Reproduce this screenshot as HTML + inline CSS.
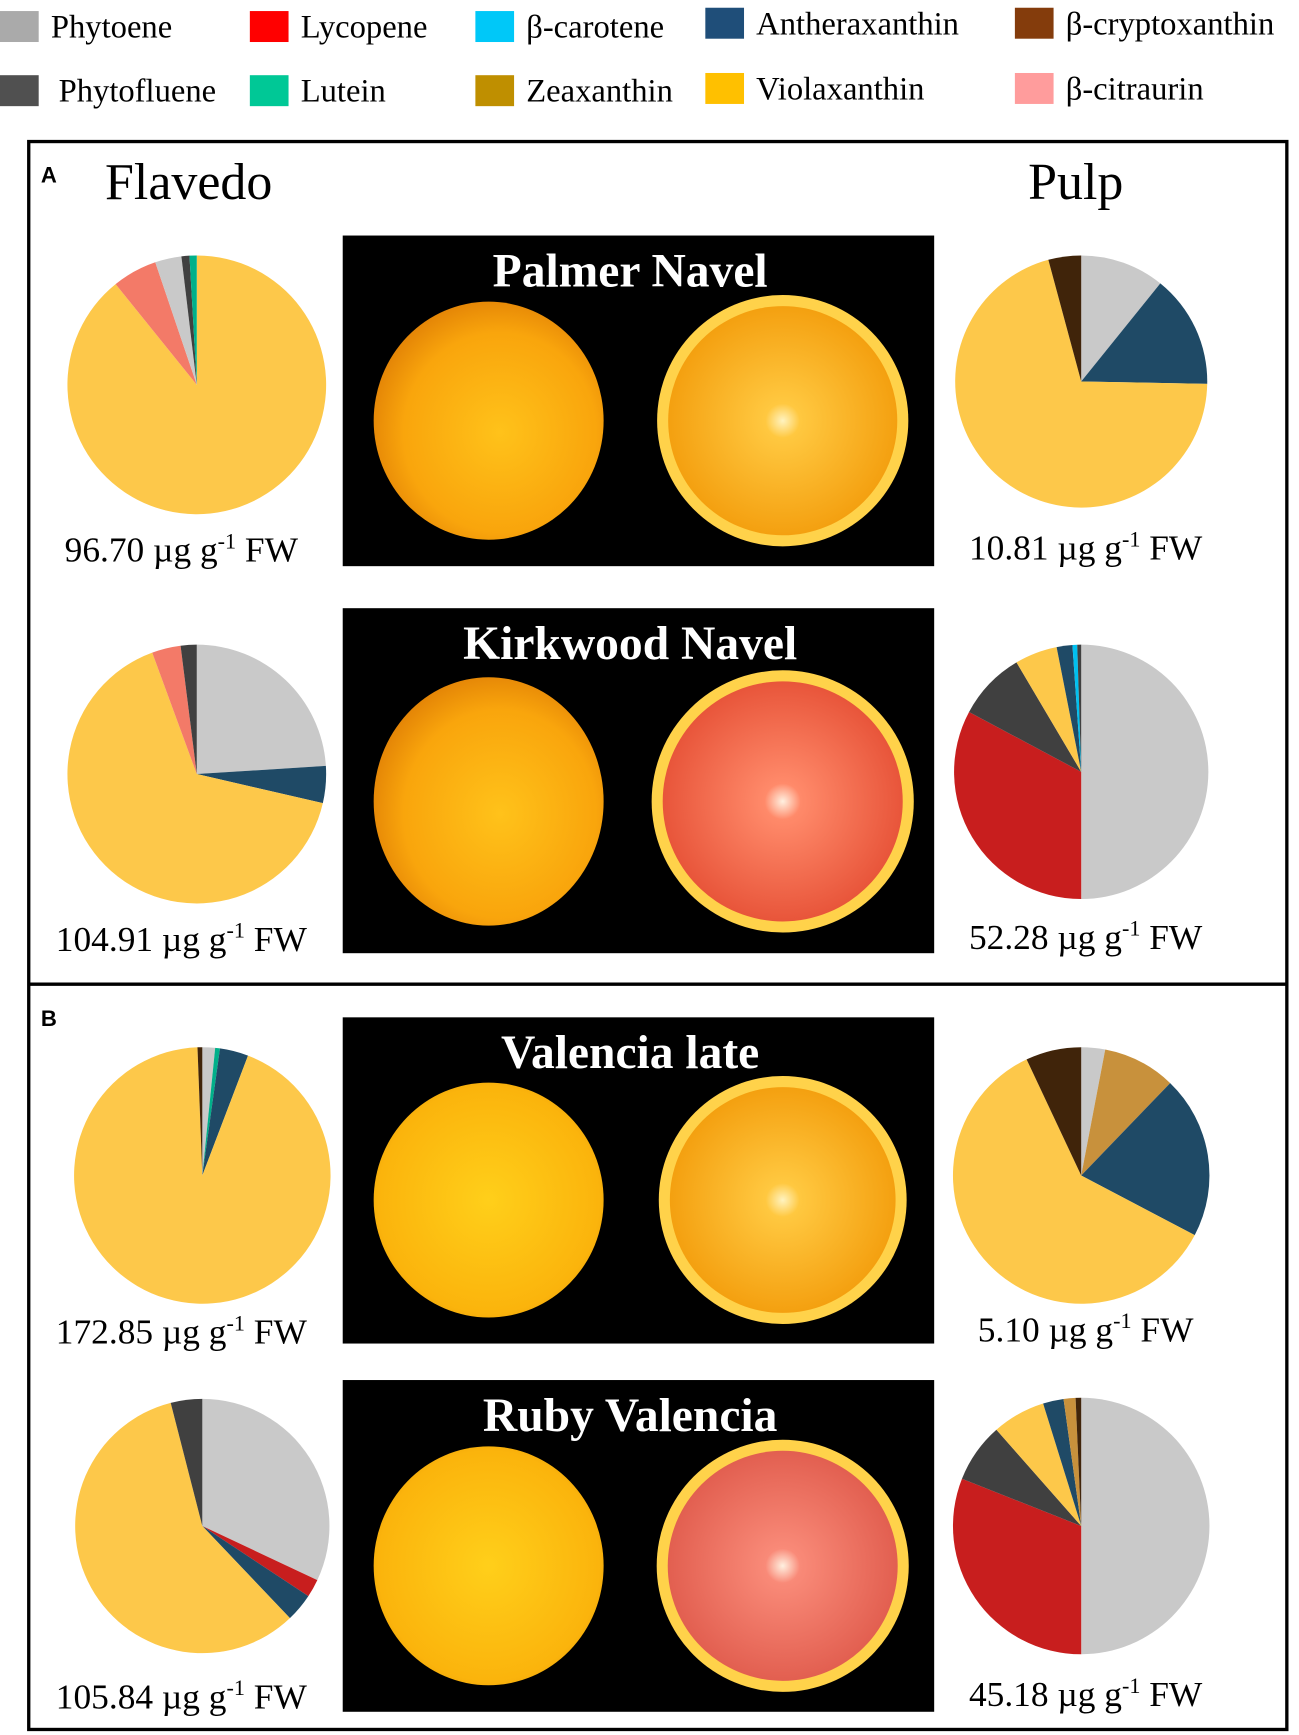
<!DOCTYPE html>
<html><head><meta charset="utf-8">
<style>
html,body{margin:0;padding:0;background:#fff;}
svg{display:block;}
text{font-family:"Liberation Serif",serif;}
</style></head>
<body>
<svg id="fig" width="1299" height="1735" viewBox="0 0 1175 1569" preserveAspectRatio="none">
<defs>
<radialGradient id="gPeel" cx="0.55" cy="0.55" r="0.6"><stop offset="0" stop-color="#ffc21a"/><stop offset="0.7" stop-color="#f9a50c"/><stop offset="1" stop-color="#e07f05"/></radialGradient>
<radialGradient id="gPeel2" cx="0.5" cy="0.5" r="0.6"><stop offset="0" stop-color="#ffcf1a"/><stop offset="0.8" stop-color="#fbb40c"/><stop offset="1" stop-color="#e89a05"/></radialGradient>
<radialGradient id="gFlesh" cx="0.5" cy="0.5" r="0.5"><stop offset="0" stop-color="#fff3c0"/><stop offset="0.15" stop-color="#ffc840"/><stop offset="1" stop-color="#f4a010"/></radialGradient>
<radialGradient id="gRed" cx="0.5" cy="0.5" r="0.5"><stop offset="0" stop-color="#fff0e0"/><stop offset="0.15" stop-color="#ff8a6a"/><stop offset="1" stop-color="#e8553a"/></radialGradient>
<radialGradient id="gRuby" cx="0.5" cy="0.5" r="0.5"><stop offset="0" stop-color="#fff0e0"/><stop offset="0.15" stop-color="#f98a78"/><stop offset="1" stop-color="#e25f50"/></radialGradient>
</defs>
<g id="legend"></g>
<rect x="26" y="128" width="1138" height="1436" fill="none" stroke="#000" stroke-width="3"/>
<line x1="26" y1="890" x2="1164" y2="890" stroke="#000" stroke-width="3"/>
<text x="37" y="165" font-weight="bold" font-size="20" style="font-family:'Liberation Sans',sans-serif">A</text>
<text x="37" y="928" font-weight="bold" font-size="20" style="font-family:'Liberation Sans',sans-serif">B</text>
<text x="95" y="180" font-size="47">Flavedo</text>
<text x="930" y="180" font-size="47">Pulp</text>
<g id="photos"></g>
<g id="pies"></g>
</svg>
<script>
const legendNames = ["Phytoene","Lycopene","β-carotene","Antheraxanthin","β-cryptoxanthin","Phytofluene","Lutein","Zeaxanthin","Violaxanthin","β-citraurin"];
const legendColors = ["#aaaaaa","#ff0000","#00c8f8","#1f4e79","#843c0c","#505050","#00c896","#bf8f00","#ffc000","#ff9c9c"];
const pieColors = {Phytoene:"#c9c9c9",Phytofluene:"#404040",Lycopene:"#c81e1e","β-carotene":"#00c0f0",Lutein:"#00b08a",Zeaxanthin:"#c8913c",Antheraxanthin:"#1f4a66",Violaxanthin:"#fdc84a","β-cryptoxanthin":"#40240a","β-citraurin":"#f37a68"};
const cultivars = ["Palmer Navel","Kirkwood Navel","Valencia late","Ruby Valencia"];
const flavedoTotals = ["96.70","104.91","172.85","105.84"];
const pulpTotals = ["10.81","52.28","5.10","45.18"];
const flavedoSlices = [
 [["Violaxanthin",89.2],["β-citraurin",5.6],["Phytoene",3.3],["Phytofluene",1.0],["Lutein",0.9]],
 [["Phytoene",24],["Antheraxanthin",4.6],["Violaxanthin",65.8],["β-citraurin",3.6],["Phytofluene",2.0]],
 [["Phytoene",1.6],["Lutein",0.6],["Antheraxanthin",3.6],["Violaxanthin",93.6],["β-cryptoxanthin",0.6]],
 [["Phytoene",32],["Lycopene",2.3],["Antheraxanthin",3.6],["Violaxanthin",58.1],["Phytofluene",4.0]]
];
const pulpSlices = [
 [["Phytoene",10.8],["Antheraxanthin",14.5],["Violaxanthin",70.5],["β-cryptoxanthin",4.2]],
 [["Phytoene",50],["Lycopene",32.8],["Phytofluene",8.7],["Violaxanthin",5.4],["Antheraxanthin",2.0],["β-carotene",0.6],["Phytofluene",0.5]],
 [["Phytoene",3],["Zeaxanthin",9.2],["Antheraxanthin",20.5],["Violaxanthin",60.3],["β-cryptoxanthin",7]],
 [["Phytoene",50],["Lycopene",31],["Phytofluene",7.5],["Violaxanthin",6.7],["Antheraxanthin",2.6],["Zeaxanthin",1.5],["β-cryptoxanthin",0.7]]
];
const rowY = [348,700,1063,1380];
const labelY = [508,860,1215,1545];
const photoY = [213,550,920,1248];
const photoH = [299,312,295,300];
const fleshFill = ["url(#gFlesh)","url(#gRed)","url(#gFlesh)","url(#gRuby)"];
const peelFill = ["url(#gPeel)","url(#gPeel)","url(#gPeel2)","url(#gPeel2)"];

const NS="http://www.w3.org/2000/svg";
function mk(tag,attrs,parent){const e=document.createElementNS(NS,tag);for(const k in attrs)e.setAttribute(k,attrs[k]);parent.appendChild(e);return e;}

const lg=document.getElementById('legend');
const legX=[0,226,430,638,918];
legendNames.forEach((n,i)=>{
  const col=i%5,row=Math.floor(i/5);
  const x=legX[col], y=row===0?(col>=3?7:10):(col>=3?66:68);
  const r=mk('rect',{x:x,y:y,width:35,height:28,fill:legendColors[i]},lg);
  
  
  const t=mk('text',{x:x+(row===1&&col===0?53:46),y:y+24,'font-size':29.5},lg);
  t.textContent=n;
  
  
});

const ph=document.getElementById('photos');
cultivars.forEach((c,i)=>{
  const y=photoY[i],h=photoH[i];
  const g=mk('g',{},ph);
  
  
  mk('rect',{x:310,y:y,width:535,height:h,fill:'#000'},g);
  const t=mk('text',{x:570,y:y+46,'font-size':43,'font-weight':'bold',fill:'#fff','text-anchor':'middle'},g);
  t.textContent=c;
  
  
  const cy=y+h*0.56;
  mk('ellipse',{cx:442,cy:cy,rx:104,ry:h*0.36,fill:peelFill[i]},g);
  mk('circle',{cx:708,cy:cy,r:h*0.38,fill:'#ffd24a'},g);
  mk('circle',{cx:708,cy:cy,r:h*0.38-10,fill:fleshFill[i]},g);
});

const pg=document.getElementById('pies');
function pie(cx,cy,r,slices,name){
  const g=mk('g',{},pg);
  
  
  const tot=slices.reduce((a,s)=>a+s[1],0);
  let a0=0;
  slices.forEach(s=>{
    const a1=a0+s[1]/tot*2*Math.PI;
    const x0=cx+r*Math.sin(a0),y0=cy-r*Math.cos(a0),x1=cx+r*Math.sin(a1),y1=cy-r*Math.cos(a1);
    const lf=(a1-a0)>Math.PI?1:0;
    const p=mk('path',{d:`M${cx},${cy}L${x0},${y0}A${r},${r} 0 ${lf} 1 ${x1},${y1}Z`,fill:pieColors[s[0]]},g);
    
    
    a0=a1;
  });
}
function label(x,y,val,name){
  const t=mk('text',{x:x,y:y,'font-size':32,'text-anchor':'middle'},pg);
  
  
  t.appendChild(document.createTextNode(val+' µg g'));
  const s=mk('tspan',{dy:-12,'font-size':20},t);s.textContent='-1';
  const s2=mk('tspan',{dy:12},t);s2.textContent=' FW';
}
const flX=[178,178,183,183], puX=[978,978,978,978];
const flR=[117,117,116,115], puR=[114,115,116,116];
const puY=[345,698,1063,1380];
cultivars.forEach((c,i)=>{
  const k=c.toLowerCase().replace(/ /g,'-');
  pie(flX[i],rowY[i],flR[i],flavedoSlices[i],'flavedo-pie-'+k);
  pie(puX[i],puY[i],puR[i],pulpSlices[i],'pulp-pie-'+k);
  label(164,labelY[i],flavedoTotals[i],'flavedo-total-'+k);
  label(982,labelY[i]-2,pulpTotals[i],'pulp-total-'+k);
});
</script>
</body></html>
